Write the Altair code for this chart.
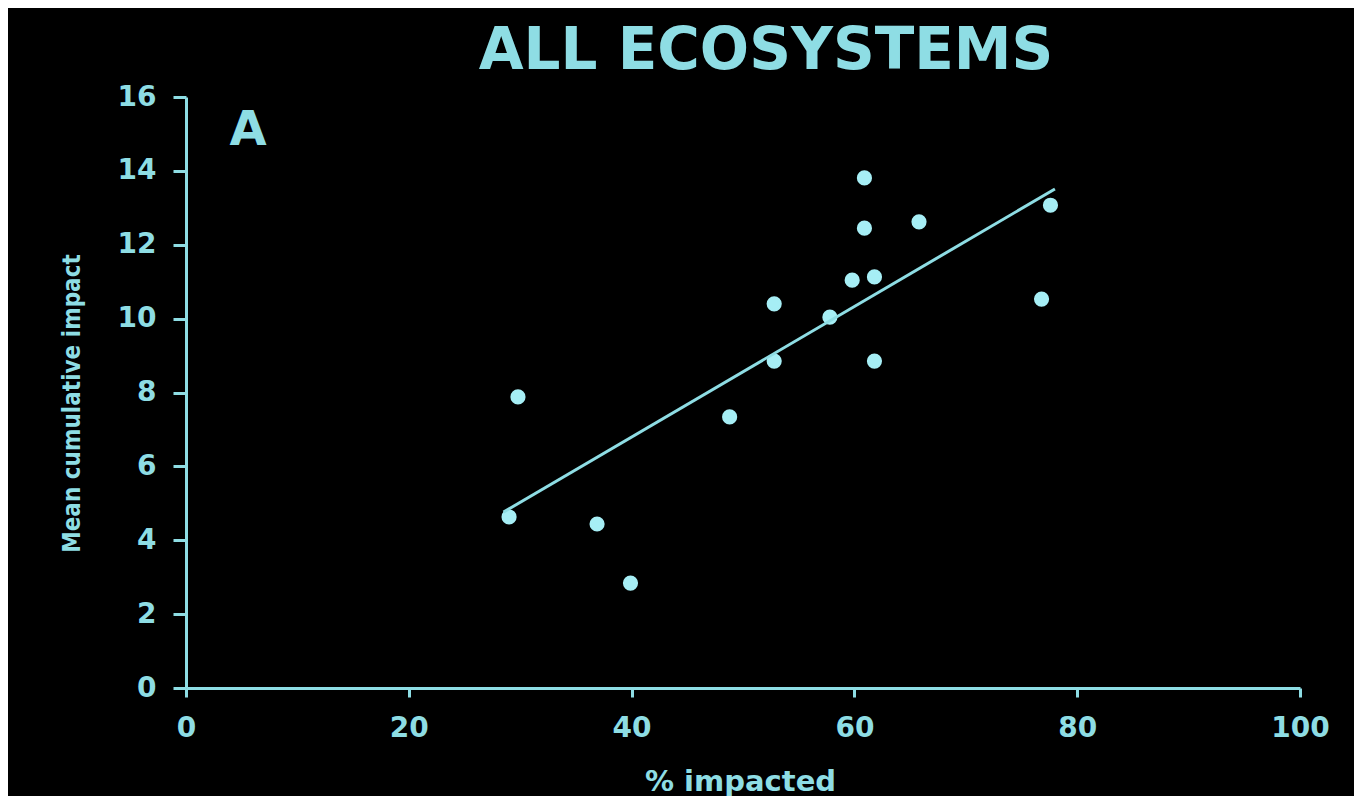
import altair as alt
import pandas as pd

# Data
pct_impacted = [29.0, 29.8, 36.9, 39.9, 48.8, 52.8, 52.8, 57.8, 59.8, 61.8, 60.9, 60.9, 61.8, 65.8, 76.8, 77.6]
mean_impact = [4.63, 7.88, 4.44, 2.84, 7.34, 10.40, 8.85, 10.04, 11.04, 11.13, 13.81, 12.45, 8.85, 12.62, 10.53, 13.07]
x_ticks = [0, 20, 40, 60, 80, 100]
y_ticks = [0, 2, 4, 6, 8, 10, 12, 14, 16]
fit_extent = [28.5, 78.0]
title_text = "ALL ECOSYSTEMS"
panel_label = "A"

df = pd.DataFrame({"x": pct_impacted, "y": mean_impact})

CYAN = "#8edde4"
POINT = "#a6eef5"
BOLD = "DejaVu Sans"

x_enc = alt.X(
    "x:Q",
    scale=alt.Scale(domain=[0, 100], nice=False, zero=True),
    axis=alt.Axis(
        values=x_ticks, title="% impacted", grid=False,
        domainColor=CYAN, domainWidth=3, tickColor=CYAN, tickWidth=3, tickSize=9,
        labelColor=CYAN, labelFont=BOLD, labelFontWeight="bold", labelFontSize=28,
        labelPadding=17, labelFlush=False,
        titleColor=CYAN, titleFont=BOLD, titleFontWeight="bold", titleFontSize=29,
        titleX=554, titleY=93, titleBaseline="middle", titleAlign="center",
    ),
)
y_enc = alt.Y(
    "y:Q",
    scale=alt.Scale(domain=[0, 16], nice=False, zero=True),
    axis=alt.Axis(
        values=y_ticks, title="Mean cumulative impact", grid=False,
        domainColor=CYAN, domainWidth=3, tickColor=CYAN, tickWidth=3, tickSize=13,
        labelColor=CYAN, labelFont=BOLD, labelFontWeight="bold", labelFontSize=28,
        labelPadding=17, labelFlush=False,
        titleColor=CYAN, titleFont="Liberation Sans Narrow, DejaVu Sans Condensed, DejaVu Sans", titleFontWeight="bold",
        titleFontSize=24, titleAngle=-90, titleX=-114, titleY=306,
        titleBaseline="middle", titleAlign="center",
    ),
)

points = alt.Chart(df).mark_circle(size=230, color=POINT, opacity=1).encode(x=x_enc, y=y_enc)

fit = (
    alt.Chart(df)
    .transform_regression("x", "y", extent=fit_extent)
    .mark_line(color=CYAN, strokeWidth=3)
    .encode(x="x:Q", y="y:Q")
)

title = alt.Chart(pd.DataFrame({"t": [title_text]})).mark_text(
    font=BOLD, fontWeight="bold", fontSize=58, color=CYAN, align="center", baseline="alphabetic"
).encode(text="t:N", x=alt.value(580), y=alt.value(-28))

label = alt.Chart(pd.DataFrame({"t": [panel_label]})).mark_text(
    font=BOLD, fontWeight="bold", fontSize=48, color=CYAN, align="center", baseline="alphabetic"
).encode(text="t:N", x=alt.value(62), y=alt.value(48))

chart = (
    alt.layer(points, fit, title, label)
    .properties(
        width=1114, height=591,
        autosize=alt.AutoSizeParams(type="none"),
        padding={"left": 178, "top": 89, "right": 54, "bottom": 108},
    )
    .configure(background="black")
    .configure_view(strokeWidth=0)
)

chart.save("out.html", embed_options={"renderer": "svg", "actions": False})
